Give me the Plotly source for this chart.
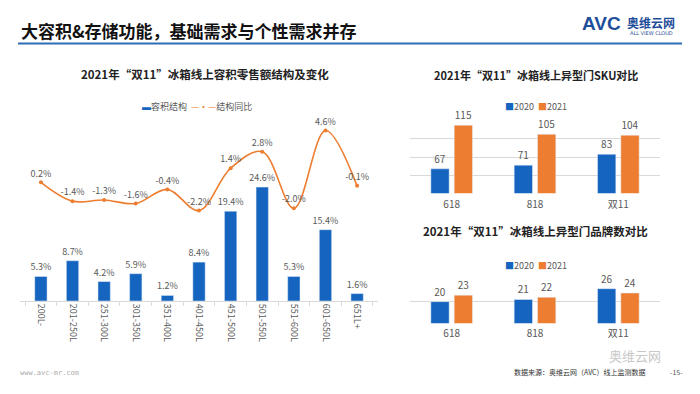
import plotly.graph_objects as go

# ---------------- data ----------------
cap_categories = ["200L-", "201-250L", "251-300L", "301-350L", "351-400L", "401-450L",
                  "451-500L", "501-550L", "551-600L", "601-650L", "651L+"]
cap_share = [5.3, 8.7, 4.2, 5.9, 1.2, 8.4, 19.4, 24.6, 5.3, 15.4, 1.6]
cap_yoy = [0.2, -1.4, -1.3, -1.6, -0.4, -2.2, 1.4, 2.8, -2.0, 4.6, -0.1]

events = ["618", "818", "双11"]
sku_2020 = [67, 71, 83]
sku_2021 = [115, 105, 104]
brand_2020 = [20, 21, 26]
brand_2021 = [23, 22, 24]

BLUE = "#1565C0"
ORANGE = "#ED7D31"
GRAY = "#595959"
GRID = "#D9D9D9"
FONT = "Noto Sans CJK SC"

W, H = 700, 394


def px_x(x):
    return x / W


def px_y(y):
    return 1 - y / H


fig = go.Figure()

# ---------- left chart: bars + line ----------
fig.add_trace(go.Bar(
    x=cap_categories, y=cap_share, name="容积结构",
    marker_color=BLUE, width=0.39,
    text=[f"{v:.1f}%" for v in cap_share], textposition="outside", constraintext="none",
    textfont=dict(size=9, color=GRAY, family=FONT), cliponaxis=False,
    xaxis="x", yaxis="y", showlegend=False,
))
fig.add_trace(go.Scatter(
    x=cap_categories, y=cap_yoy, name="结构同比",
    mode="lines+markers+text", line=dict(color=ORANGE, width=1.6, shape="spline", smoothing=1.0),
    marker=dict(size=4, color=ORANGE),
    text=[f"{v:.1f}%" for v in cap_yoy], textposition="top center",
    textfont=dict(size=9, color=GRAY, family=FONT), cliponaxis=False,
    xaxis="x", yaxis="y2", showlegend=False,
))

# ---------- right top: SKU ----------
fig.add_trace(go.Bar(
    x=events, y=sku_2020, name="2020", marker_color=BLUE,
    text=[str(v) for v in sku_2020], textposition="outside", constraintext="none",
    textfont=dict(size=10, color=GRAY, family=FONT), cliponaxis=False,
    xaxis="x3", yaxis="y3", showlegend=False,
))
fig.add_trace(go.Bar(
    x=events, y=sku_2021, name="2021", marker_color=ORANGE,
    text=[str(v) for v in sku_2021], textposition="outside", constraintext="none",
    textfont=dict(size=10, color=GRAY, family=FONT), cliponaxis=False,
    xaxis="x3", yaxis="y3", showlegend=False,
))

# ---------- right bottom: brands ----------
fig.add_trace(go.Bar(
    x=events, y=brand_2020, name="2020", marker_color=BLUE,
    text=[str(v) for v in brand_2020], textposition="outside", constraintext="none",
    textfont=dict(size=10, color=GRAY, family=FONT), cliponaxis=False,
    xaxis="x4", yaxis="y4", showlegend=False,
))
fig.add_trace(go.Bar(
    x=events, y=brand_2021, name="2021", marker_color=ORANGE,
    text=[str(v) for v in brand_2021], textposition="outside", constraintext="none",
    textfont=dict(size=10, color=GRAY, family=FONT), cliponaxis=False,
    xaxis="x4", yaxis="y4", showlegend=False,
))

left_dom_y = [px_y(301), px_y(120)]
fig.update_layout(
    width=W, height=H, autosize=False,
    margin=dict(l=0, r=0, t=0, b=0),
    paper_bgcolor="white", plot_bgcolor="rgba(0,0,0,0)",
    font=dict(family=FONT, color=GRAY),
    barmode="group", bargap=0.44, bargroupgap=0.215,
    showlegend=False,
    xaxis=dict(domain=[px_x(20), px_x(378)], type="category",
               tickangle=90, tickfont=dict(size=9, color=GRAY, family=FONT),
               showline=True, linecolor=GRID, linewidth=1,
               ticks="outside", tickson="boundaries", ticklen=4, tickcolor=GRID,
               showgrid=False, fixedrange=True),
    yaxis=dict(domain=left_dom_y, range=[0, 39.1], visible=False, fixedrange=True),
    yaxis2=dict(domain=left_dom_y, range=[-9.89, 5.50], overlaying="y", visible=False,
                fixedrange=True),
    xaxis3=dict(domain=[px_x(410), px_x(660)], type="category", anchor="y3",
                tickfont=dict(size=10, color=GRAY, family=FONT), ticklabelstandoff=4,
                showline=False, showgrid=False, ticks=""),
    yaxis3=dict(domain=[px_y(193.3), px_y(120.7)], range=[40, 120], dtick=20,
                anchor="x3", showgrid=True, gridcolor=GRID, gridwidth=1,
                showticklabels=False, zeroline=False, showline=False),
    xaxis4=dict(domain=[px_x(410), px_x(660)], type="category", anchor="y4",
                tickfont=dict(size=10, color=GRAY, family=FONT), ticklabelstandoff=3,
                showline=False, showgrid=False, ticks=""),
    yaxis4=dict(domain=[px_y(323.3), px_y(280)], range=[10, 30], dtick=10,
                anchor="x4", showgrid=True, gridcolor=GRID, gridwidth=1,
                showticklabels=False, zeroline=False, showline=False),
)

# ---------- header line ----------
fig.add_shape(type="line", xref="paper", yref="paper",
              x0=px_x(18), x1=px_x(682), y0=px_y(43.5), y1=px_y(43.5),
              line=dict(color="#2E6DB4", width=2))

ann = []


def add_text(x, y, text, size, color="#222222", bold=False, xanchor="center", family=FONT):
    ann.append(dict(x=px_x(x), y=px_y(y), xref="paper", yref="paper", showarrow=False,
                    text=(f"<b>{text}</b>" if bold else text), xanchor=xanchor, yanchor="middle",
                    font=dict(size=size, color=color, family=family)))


add_text(19, 30, "大容积&存储功能，基础需求与个性需求并存", 17, "#111111", True, "left")
add_text(205, 74, "2021年“双11”冰箱线上容积零售额结构及变化", 11.5, "#222222", True)
add_text(536, 75, "2021年“双11”冰箱线上异型门SKU对比", 11, "#222222", True)
add_text(535, 231, "2021年“双11”冰箱线上异型门品牌数对比", 11.5, "#222222", True)

# legends
add_text(197, 106, f'<span style="color:{BLUE}">▬</span>容积结构  '
                   f'<span style="color:{ORANGE}">—•—</span>结构同比', 9, GRAY)
add_text(536, 106, f'<span style="color:{BLUE}">■</span>2020  '
                   f'<span style="color:{ORANGE}">■</span>2021', 9, GRAY)
add_text(536, 265, f'<span style="color:{BLUE}">■</span>2020  '
                   f'<span style="color:{ORANGE}">■</span>2021', 9, GRAY)

# logo
add_text(580, 24, "AVC", 19, "#1F4E9A", True, "left", "Liberation Sans")
add_text(625, 22.5, "奥维云网", 12, "#1F4E9A", True, "left")
add_text(628, 33, "ALL VIEW CLOUD", 5, "#1F4E9A", False, "left", "DejaVu Sans")

# footer
add_text(18, 373, "www.avc-mr.com", 7, "#AAAAAA", False, "left", "DejaVu Sans Mono")
add_text(512, 372, "数据来源：奥维云网（AVC）线上监测数据", 7, "#333333", False, "left")
add_text(668, 372, "-15-", 7, "#555555", False, "left")
add_text(635, 355, "奥维云网", 13, "#C8C8C8", False, "center")

fig.update_layout(annotations=ann)

fig.write_html("out.html", config={"displayModeBar": False},
               post_script="document.body.style.margin='0';document.body.style.padding='0';")
